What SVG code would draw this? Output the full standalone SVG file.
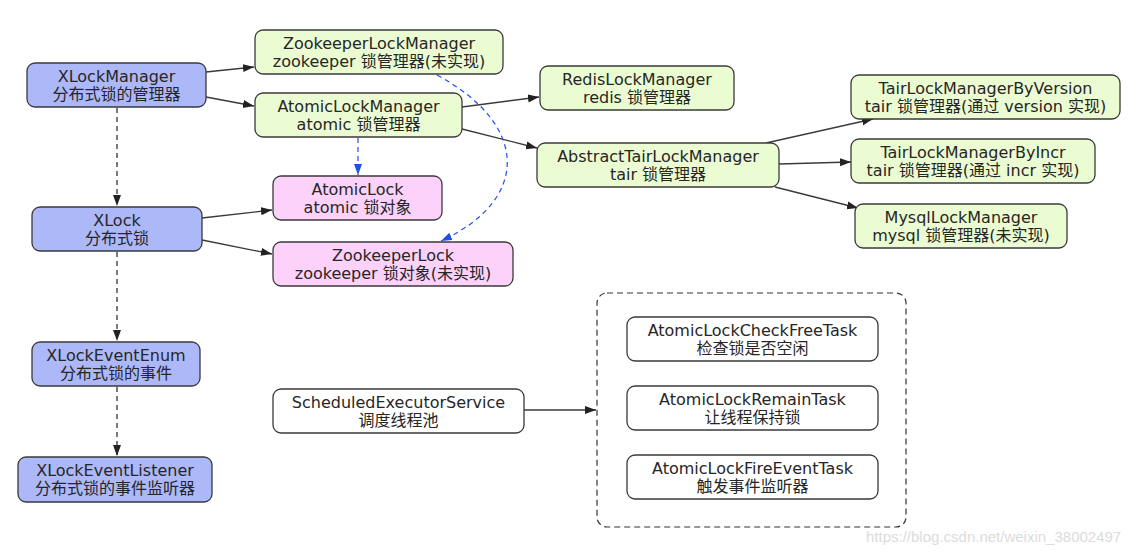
<svg xmlns="http://www.w3.org/2000/svg" width="1147" height="553" viewBox="0 0 1147 553">
<style>
.n{stroke:#3a3a3a;stroke-width:1.3}
.b{fill:#adb8f9}
.g{fill:#ecfcd2}
.p{fill:#fcd2fb}
.w{fill:#ffffff}
text{font-family:"DejaVu Sans","Noto Sans CJK SC",sans-serif;font-size:16px;fill:#262626;text-anchor:middle;dominant-baseline:central}
.c{fill:none;stroke:#3a3a3a;stroke-width:1.3}
.cd{fill:none;stroke:#222;stroke-width:1.2;stroke-dasharray:5,4}
.cb{fill:none;stroke:#2050e8;stroke-width:1.2;stroke-dasharray:5,4}
.wm{font-family:"Liberation Sans",sans-serif;font-size:15px;fill:#dcdcdc;text-anchor:start}
</style>
<defs>
<marker id="ah" markerUnits="userSpaceOnUse" markerWidth="12" markerHeight="10" refX="11" refY="4" orient="auto"><path d="M0,0 L11,4 L0,8 z" fill="#222"/></marker>
<marker id="ab" markerUnits="userSpaceOnUse" markerWidth="12" markerHeight="10" refX="11" refY="4" orient="auto"><path d="M0,0 L11,4 L0,8 z" fill="#2050e8"/></marker>
</defs>
<g id="connectors">
<line class="c" x1="206" y1="72" x2="254" y2="67" marker-end="url(#ah)"/>
<line class="c" x1="206" y1="97" x2="254" y2="106" marker-end="url(#ah)"/>
<line class="c" x1="462" y1="107" x2="539" y2="97" marker-end="url(#ah)"/>
<line class="c" x1="462" y1="129" x2="537" y2="148" marker-end="url(#ah)"/>
<line class="c" x1="766" y1="143" x2="873" y2="119" marker-end="url(#ah)"/>
<line class="c" x1="779" y1="164" x2="851" y2="162" marker-end="url(#ah)"/>
<line class="c" x1="775" y1="187" x2="858" y2="208" marker-end="url(#ah)"/>
<line class="c" x1="202" y1="218" x2="272" y2="210" marker-end="url(#ah)"/>
<line class="c" x1="202" y1="240" x2="272" y2="254" marker-end="url(#ah)"/>
<line class="c" x1="524" y1="410" x2="596" y2="410" marker-end="url(#ah)"/>
<line class="cd" x1="117" y1="108" x2="117" y2="206" marker-end="url(#ah)"/>
<line class="cd" x1="117" y1="252" x2="117" y2="341" marker-end="url(#ah)"/>
<line class="cd" x1="117" y1="387" x2="117" y2="456" marker-end="url(#ah)"/>
<line class="cb" x1="358" y1="138" x2="358" y2="175" marker-end="url(#ab)"/>
<path class="cb" d="M437,75 C530,125 530,200 441,241" marker-end="url(#ab)"/>
</g>
<g id="XLockManager"><rect class="n b" x="27" y="63" width="179" height="44" rx="8"/><text x="116.5" y="76">XLockManager</text><text x="116.5" y="94">分布式锁的管理器</text></g>
<g id="ZookeeperLockManager"><rect class="n g" x="255" y="30" width="248" height="44" rx="8"/><text x="379" y="43">ZookeeperLockManager</text><text x="379" y="61">zookeeper 锁管理器(未实现)</text></g>
<g id="AtomicLockManager"><rect class="n g" x="255" y="93" width="207" height="44" rx="8"/><text x="358.5" y="106">AtomicLockManager</text><text x="358.5" y="124">atomic 锁管理器</text></g>
<g id="RedisLockManager"><rect class="n g" x="540" y="66" width="194" height="44" rx="8"/><text x="637" y="79">RedisLockManager</text><text x="637" y="97">redis 锁管理器</text></g>
<g id="AbstractTairLockManager"><rect class="n g" x="537" y="143" width="242" height="44" rx="8"/><text x="658" y="156">AbstractTairLockManager</text><text x="658" y="174">tair 锁管理器</text></g>
<g id="TairLockManagerByVersion"><rect class="n g" x="851" y="75" width="269" height="44" rx="8"/><text x="985.5" y="88">TairLockManagerByVersion</text><text x="985.5" y="106">tair 锁管理器(通过 version 实现)</text></g>
<g id="TairLockManagerByIncr"><rect class="n g" x="851" y="139" width="244" height="44" rx="8"/><text x="973" y="152">TairLockManagerByIncr</text><text x="973" y="170">tair 锁管理器(通过 incr 实现)</text></g>
<g id="MysqlLockManager"><rect class="n g" x="855" y="204" width="212" height="44" rx="8"/><text x="961" y="217">MysqlLockManager</text><text x="961" y="235">mysql 锁管理器(未实现)</text></g>
<g id="AtomicLock"><rect class="n p" x="273" y="176" width="169" height="44" rx="8"/><text x="357.5" y="189">AtomicLock</text><text x="357.5" y="207">atomic 锁对象</text></g>
<g id="ZookeeperLock"><rect class="n p" x="273" y="242" width="240" height="44" rx="8"/><text x="393" y="255">ZookeeperLock</text><text x="393" y="273">zookeeper 锁对象(未实现)</text></g>
<g id="XLock"><rect class="n b" x="32" y="207" width="170" height="44" rx="8"/><text x="117" y="220">XLock</text><text x="117" y="238">分布式锁</text></g>
<g id="XLockEventEnum"><rect class="n b" x="32" y="342" width="168" height="44" rx="8"/><text x="116" y="355">XLockEventEnum</text><text x="116" y="373">分布式锁的事件</text></g>
<g id="XLockEventListener"><rect class="n b" x="18" y="457" width="194" height="45" rx="8"/><text x="115" y="470">XLockEventListener</text><text x="115" y="488">分布式锁的事件监听器</text></g>
<g id="ScheduledExecutorService"><rect class="n w" x="273" y="389" width="251" height="44" rx="8"/><text x="398.5" y="402">ScheduledExecutorService</text><text x="398.5" y="420">调度线程池</text></g>
<g id="TaskGroup"><rect x="597" y="293" width="309" height="234" rx="10" fill="none" stroke="#333" stroke-width="1.2" stroke-dasharray="6,4"/></g>
<g id="AtomicLockCheckFreeTask"><rect class="n w" x="627" y="317" width="251" height="44" rx="8"/><text x="752.5" y="330">AtomicLockCheckFreeTask</text><text x="752.5" y="348">检查锁是否空闲</text></g>
<g id="AtomicLockRemainTask"><rect class="n w" x="627" y="386" width="251" height="44" rx="8"/><text x="752.5" y="399">AtomicLockRemainTask</text><text x="752.5" y="417">让线程保持锁</text></g>
<g id="AtomicLockFireEventTask"><rect class="n w" x="627" y="455" width="251" height="44" rx="8"/><text x="752.5" y="468">AtomicLockFireEventTask</text><text x="752.5" y="486">触发事件监听器</text></g>
<text class="wm" x="866" y="536">https://blog.csdn.net/weixin_38002497</text>
</svg>
